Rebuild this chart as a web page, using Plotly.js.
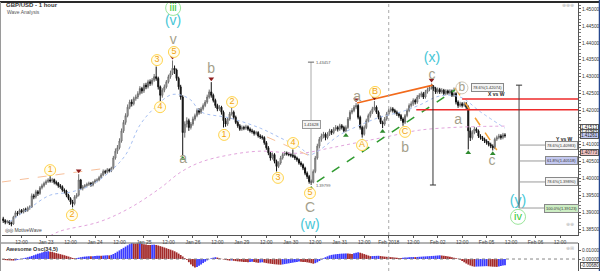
<!DOCTYPE html>
<html><head><meta charset="utf-8">
<script src="https://cdn.plot.ly/plotly-3.0.1.min.js"></script>
<style>html,body{margin:0;padding:0;background:#fff}#c{width:600px;height:271px}</style>
</head><body><div id="c"></div>
<script>
// hourly bars, x = trading hour counted from Jan 23 00:00 (weekends removed)
const START_HOUR = -21;
const open = [
1.3880,1.3875,1.3870,1.3872,1.3868,1.3865,1.3885,1.3898,1.3895,1.3905,
1.3900,1.3908,1.3905,1.3912,1.3915,1.3948,1.3945,1.3960,1.3955,1.3972,
1.3978,1.3985,1.3990,1.3995,1.3992,1.3996,1.3988,1.3985,1.3978,1.3975,
1.3965,1.3962,1.3950,1.3940,1.3930,1.3925,1.3945,1.3950,1.3995,1.3970,
1.3975,1.3978,1.3982,1.3985,1.3980,1.3988,1.3993,1.3995,1.4002,1.4010,
1.4020,1.4018,1.4025,1.4022,1.4030,1.4060,1.4080,1.4090,1.4110,1.4140,
1.4165,1.4185,1.4210,1.4225,1.4220,1.4235,1.4240,1.4250,1.4265,1.4258,
1.4275,1.4270,1.4285,1.4280,1.4290,1.4300,1.4295,1.4270,1.4245,1.4260,
1.4270,1.4285,1.4300,1.4310,1.4325,1.4320,1.4295,1.4270,1.4240,1.4135,
1.4160,1.4170,1.4150,1.4160,1.4175,1.4185,1.4200,1.4195,1.4205,1.4215,
1.4225,1.4240,1.4255,1.4245,1.4230,1.4215,1.4205,1.4210,1.4195,1.4170,
1.4160,1.4175,1.4190,1.4195,1.4180,1.4165,1.4155,1.4145,1.4150,1.4148,
1.4152,1.4145,1.4140,1.4138,1.4132,1.4135,1.4125,1.4122,1.4120,1.4105,
1.4090,1.4075,1.4060,1.4070,1.4050,1.4035,1.4045,1.4060,1.4070,1.4075,
1.4072,1.4070,1.4068,1.4065,1.4060,1.4055,1.4045,1.4040,1.4030,1.4015,
1.4005,1.3990,1.3988,1.4020,1.4060,1.4095,1.4115,1.4125,1.4130,1.4120,
1.4130,1.4140,1.4135,1.4145,1.4150,1.4145,1.4155,1.4150,1.4140,1.4150,
1.4175,1.4195,1.4200,1.4210,1.4215,1.4180,1.4150,1.4130,1.4150,1.4170,
1.4185,1.4195,1.4205,1.4210,1.4195,1.4180,1.4165,1.4160,1.4175,1.4190,
1.4200,1.4205,1.4200,1.4195,1.4190,1.4185,1.4175,1.4165,1.4185,1.4200,
1.4215,1.4220,1.4230,1.4225,1.4240,1.4245,1.4250,1.4240,1.4255,1.4262,
1.4268,1.4270,1.4265,1.4255,1.4262,1.4255,1.4260,1.4250,1.4258,1.4252,
1.4258,1.4245,1.4250,1.4225,1.4215,1.4220,1.4215,1.4220,1.4210,1.4140,
1.4120,1.4135,1.4145,1.4140,1.4125,1.4120,1.4115,1.4110,1.4105,1.4100,
1.4095,1.4090,1.4115,1.4120,1.4125,1.4120,1.4128];
const high = [
1.3886,1.3879,1.3877,1.3876,1.3872,1.3889,1.3904,1.3903,1.3910,1.3909,
1.3912,1.3913,1.3917,1.3920,1.3955,1.3954,1.3966,1.3965,1.3977,1.3984,
1.3990,1.3996,1.4000,1.4006,1.4001,1.3999,1.3993,1.3989,1.3983,1.3979,
1.3970,1.3966,1.3954,1.3944,1.3936,1.3950,1.3956,1.4012,1.3998,1.3980,
1.3983,1.3987,1.3990,1.3989,1.3992,1.3998,1.4000,1.4007,1.4015,1.4026,
1.4025,1.4030,1.4029,1.4034,1.4066,1.4088,1.4098,1.4118,1.4147,1.4172,
1.4192,1.4218,1.4232,1.4233,1.4241,1.4247,1.4257,1.4272,1.4270,1.4281,
1.4282,1.4291,1.4292,1.4296,1.4308,1.4330,1.4300,1.4274,1.4266,1.4277,
1.4290,1.4306,1.4318,1.4348,1.4333,1.4324,1.4300,1.4276,1.4245,1.4168,
1.4180,1.4176,1.4166,1.4182,1.4191,1.4206,1.4207,1.4211,1.4221,1.4231,
1.4247,1.4262,1.4284,1.4250,1.4235,1.4220,1.4216,1.4214,1.4200,1.4178,
1.4181,1.4196,1.4210,1.4200,1.4185,1.4170,1.4160,1.4156,1.4155,1.4158,
1.4156,1.4150,1.4146,1.4142,1.4140,1.4139,1.4130,1.4127,1.4124,1.4110,
1.4095,1.4080,1.4076,1.4074,1.4055,1.4050,1.4066,1.4076,1.4080,1.4079,
1.4077,1.4074,1.4085,1.4070,1.4064,1.4059,1.4050,1.4044,1.4034,1.4020,
1.4010,1.3996,1.4026,1.4066,1.4102,1.4122,1.4132,1.4137,1.4135,1.4136,
1.4146,1.4145,1.4151,1.4157,1.4155,1.4161,1.4160,1.4155,1.4156,1.4181,
1.4201,1.4207,1.4216,1.4222,1.4219,1.4185,1.4155,1.4156,1.4176,1.4191,
1.4200,1.4211,1.4228,1.4215,1.4200,1.4185,1.4170,1.4181,1.4196,1.4206,
1.4211,1.4210,1.4205,1.4200,1.4195,1.4190,1.4180,1.4190,1.4206,1.4221,
1.4227,1.4236,1.4235,1.4246,1.4251,1.4256,1.4255,1.4261,1.4268,1.4274,
1.4280,1.4275,1.4270,1.4268,1.4267,1.4266,1.4264,1.4263,1.4262,1.4263,
1.4262,1.4268,1.4254,1.4230,1.4226,1.4225,1.4226,1.4225,1.4215,1.4150,
1.4142,1.4152,1.4150,1.4144,1.4130,1.4125,1.4120,1.4115,1.4110,1.4105,
1.4100,1.4120,1.4126,1.4131,1.4130,1.4134,1.4133];
const low = [
1.3868,1.3864,1.3866,1.3862,1.3858,1.3862,1.3882,1.3889,1.3891,1.3895,
1.3896,1.3900,1.3901,1.3907,1.3912,1.3938,1.3940,1.3948,1.3951,1.3967,
1.3973,1.3980,1.3986,1.3987,1.3986,1.3982,1.3979,1.3972,1.3969,1.3960,
1.3955,1.3944,1.3935,1.3922,1.3914,1.3920,1.3940,1.3946,1.3965,1.3964,
1.3970,1.3973,1.3977,1.3975,1.3976,1.3984,1.3988,1.3991,1.3998,1.4006,
1.4012,1.4014,1.4017,1.4018,1.4026,1.4055,1.4072,1.4085,1.4105,1.4134,
1.4158,1.4180,1.4204,1.4212,1.4215,1.4229,1.4234,1.4245,1.4250,1.4252,
1.4263,1.4265,1.4273,1.4274,1.4285,1.4288,1.4262,1.4228,1.4238,1.4254,
1.4265,1.4280,1.4294,1.4305,1.4308,1.4288,1.4262,1.4232,1.4068,1.4120,
1.4150,1.4140,1.4144,1.4155,1.4170,1.4180,1.4188,1.4190,1.4200,1.4210,
1.4220,1.4235,1.4238,1.4224,1.4208,1.4198,1.4199,1.4188,1.4150,1.4152,
1.4155,1.4170,1.4185,1.4174,1.4160,1.4149,1.4140,1.4140,1.4142,1.4143,
1.4140,1.4135,1.4132,1.4126,1.4127,1.4120,1.4116,1.4114,1.4099,1.4084,
1.4068,1.4052,1.4055,1.4044,1.4020,1.4030,1.4040,1.4055,1.4066,1.4067,
1.4065,1.4062,1.4060,1.4054,1.4049,1.4040,1.4034,1.4024,1.4009,1.3998,
1.3984,1.3980,1.3985,1.4015,1.4055,1.4088,1.4108,1.4118,1.4112,1.4115,
1.4125,1.4128,1.4130,1.4140,1.4138,1.4140,1.4144,1.4135,1.4136,1.4146,
1.4170,1.4189,1.4195,1.4204,1.4174,1.4144,1.4120,1.4126,1.4145,1.4165,
1.4179,1.4190,1.4200,1.4190,1.4174,1.4160,1.4148,1.4155,1.4170,1.4185,
1.4195,1.4194,1.4189,1.4184,1.4179,1.4169,1.4155,1.4160,1.4180,1.4195,
1.4209,1.4214,1.4218,1.4220,1.4234,1.4239,1.4234,1.4235,1.4250,1.4257,
1.4262,1.4258,1.4249,1.4250,1.4249,1.4250,1.4244,1.4245,1.4247,1.4247,
1.4240,1.4240,1.4218,1.4208,1.4210,1.4209,1.4211,1.4204,1.4085,1.4110,
1.4114,1.4130,1.4134,1.4119,1.4114,1.4110,1.4104,1.4099,1.4094,1.4089,
1.4082,1.4086,1.4110,1.4115,1.4114,1.4115,1.4120];
const close = [
1.3875,1.3870,1.3872,1.3868,1.3865,1.3885,1.3898,1.3895,1.3905,1.3900,
1.3908,1.3905,1.3912,1.3915,1.3948,1.3945,1.3960,1.3955,1.3972,1.3978,
1.3985,1.3990,1.3995,1.3992,1.3996,1.3988,1.3985,1.3978,1.3975,1.3965,
1.3962,1.3950,1.3940,1.3930,1.3925,1.3945,1.3950,1.3995,1.3970,1.3975,
1.3978,1.3982,1.3985,1.3980,1.3988,1.3993,1.3995,1.4002,1.4010,1.4020,
1.4018,1.4025,1.4022,1.4030,1.4060,1.4080,1.4090,1.4110,1.4140,1.4165,
1.4185,1.4210,1.4225,1.4220,1.4235,1.4240,1.4250,1.4265,1.4258,1.4275,
1.4270,1.4285,1.4280,1.4290,1.4300,1.4295,1.4270,1.4245,1.4260,1.4270,
1.4285,1.4300,1.4310,1.4325,1.4320,1.4295,1.4270,1.4240,1.4135,1.4160,
1.4170,1.4150,1.4160,1.4175,1.4185,1.4200,1.4195,1.4205,1.4215,1.4225,
1.4240,1.4255,1.4245,1.4230,1.4215,1.4205,1.4210,1.4195,1.4170,1.4160,
1.4175,1.4190,1.4195,1.4180,1.4165,1.4155,1.4145,1.4150,1.4148,1.4152,
1.4145,1.4140,1.4138,1.4132,1.4135,1.4125,1.4122,1.4120,1.4105,1.4090,
1.4075,1.4060,1.4070,1.4050,1.4035,1.4045,1.4060,1.4070,1.4075,1.4072,
1.4070,1.4068,1.4065,1.4060,1.4055,1.4045,1.4040,1.4030,1.4015,1.4005,
1.3990,1.3988,1.4020,1.4060,1.4095,1.4115,1.4125,1.4130,1.4120,1.4130,
1.4140,1.4135,1.4145,1.4150,1.4145,1.4155,1.4150,1.4140,1.4150,1.4175,
1.4195,1.4200,1.4210,1.4215,1.4180,1.4150,1.4130,1.4150,1.4170,1.4185,
1.4195,1.4205,1.4210,1.4195,1.4180,1.4165,1.4160,1.4175,1.4190,1.4200,
1.4205,1.4200,1.4195,1.4190,1.4185,1.4175,1.4165,1.4185,1.4200,1.4215,
1.4220,1.4230,1.4225,1.4240,1.4245,1.4250,1.4240,1.4255,1.4262,1.4268,
1.4270,1.4265,1.4255,1.4262,1.4255,1.4260,1.4250,1.4258,1.4252,1.4258,
1.4245,1.4250,1.4225,1.4215,1.4220,1.4215,1.4220,1.4210,1.4140,1.4120,
1.4135,1.4145,1.4140,1.4125,1.4120,1.4115,1.4110,1.4105,1.4100,1.4095,
1.4090,1.4115,1.4120,1.4125,1.4120,1.4128,1.4126];
// Awesome Oscillator (34,5), one value per bar
const ao = [
-0.0010,-0.0012,-0.0014,-0.0015,-0.0016,-0.0017,-0.0015,
-0.0010,-0.0004,0.0002,0.0008,0.0014,0.0020,0.0026,
0.0034,0.0042,0.0050,0.0058,0.0065,0.0072,0.0078,0.0083,
0.0086,0.0082,0.0078,0.0072,0.0066,0.0060,0.0054,0.0048,0.0042,
0.0035,0.0028,0.0020,0.0012,0.0008,
0.0011,0.0015,0.0020,0.0024,
0.0027,0.0029,0.0031,0.0030,0.0032,0.0034,0.0035,0.0037,0.0036,0.0038,0.0040,0.0042,0.0040,
0.0046,0.0056,0.0068,0.0082,0.0096,0.0110,0.0124,0.0138,0.0152,0.0165,
0.0175,
0.0173,0.0171,0.0169,0.0172,0.0168,0.0164,
0.0160,0.0157,0.0155,0.0158,0.0160,0.0156,
0.0150,0.0143,0.0136,0.0128,
0.0120,0.0112,0.0104,0.0096,0.0086,0.0074,0.0060,0.0045,0.0028,0.0010,
-0.0010,-0.0035,-0.0060,-0.0080,-0.0095,
-0.0088,-0.0075,-0.0060,-0.0045,-0.0030,
-0.0015,-0.0002,0.0008,0.0015,0.0020,
0.0016,0.0008,0.0002,
-0.0005,-0.0010,-0.0014,-0.0018,-0.0016,-0.0020,-0.0023,-0.0026,-0.0028,-0.0030,-0.0032,-0.0034,
-0.0036,-0.0033,-0.0030,-0.0034,-0.0038,-0.0042,-0.0039,-0.0036,-0.0040,-0.0045,
-0.0049,-0.0052,-0.0055,-0.0058,-0.0060,-0.0062,-0.0063,
-0.0060,-0.0056,-0.0052,-0.0048,-0.0044,-0.0040,-0.0036,-0.0032,-0.0028,
-0.0030,-0.0032,-0.0034,-0.0037,-0.0041,-0.0046,-0.0052,
-0.0046,-0.0036,-0.0022,
-0.0006,0.0008,0.0020,0.0030,0.0040,
0.0046,0.0050,0.0053,0.0056,0.0058,0.0060,0.0061,0.0062,
0.0060,0.0058,0.0057,
0.0064,0.0070,0.0075,
0.0070,0.0063,0.0055,0.0047,0.0039,0.0032,
0.0033,0.0034,0.0035,0.0036,
0.0033,0.0030,0.0027,0.0025,0.0023,0.0021,
0.0019,0.0016,0.0014,0.0012,0.0010,
0.0013,0.0016,0.0018,0.0020,
0.0021,0.0022,0.0021,0.0023,0.0025,0.0026,0.0028,0.0029,0.0031,0.0032,0.0034,0.0035,0.0037,0.0039,0.0041,
0.0039,0.0036,0.0033,0.0029,0.0025,0.0020,0.0015,0.0009,0.0003,
-0.0008,-0.0022,-0.0036,-0.0050,-0.0062,-0.0072,-0.0080,-0.0085,
-0.0084,-0.0083,-0.0082,-0.0081,-0.0080,-0.0079,
-0.0081,-0.0083,-0.0085,-0.0086,-0.0087,
-0.0083,-0.0078,-0.0073,-0.0068];

// moving averages (sampled)
const maFastHours = [-18,-8,2,12,22,31,39,46,53,61,66,71,76,90,105,115,125,129,134,144,154,164,174,183,193,203,213,225];
const maFast = [1.3871,1.3912,1.3950,1.3959,1.3980,1.4018,1.4069,1.4157,1.4207,1.4246,1.4246,1.4231,1.4196,1.4178,1.4148,1.4119,1.4089,1.4069,1.4083,1.4128,1.4157,1.4181,1.4196,1.4216,1.4243,1.4240,1.4196,1.4148];
const maSlowHours = [2,7,26,41,56,66,76,90,105,125,139,154,169,183,203,225];
const maSlow = [1.3830,1.3844,1.3871,1.3912,1.3971,1.4018,1.4048,1.4069,1.4080,1.4074,1.4089,1.4107,1.4125,1.4142,1.4151,1.4154];

// axis ticks
const tickHours = [-12,0,12,24,36,48,60,72,84,96,108,120,132,144,156,168,180,192,204,216,228,240,252];
const tickLabels = ['12:00','Jan 23','12:00','Jan 24','12:00','Jan 25','12:00','Jan 26','12:00','Jan 29','12:00','Jan 30','12:00','Jan 31','12:00','Feb 2018','12:00','Feb 02','12:00','Feb 05','12:00','Feb 06','12:00'];
const priceTicks = [1.385,1.390,1.395,1.400,1.405,1.410,1.415,1.420,1.425,1.430,1.435,1.440,1.445,1.450];

// wave labels
const circText = ['1','2','3','4','5','1','2','3','4','5','A','B','C'];
const circHour = [2,12.7,54.4,55.9,62.7,87.3,91.2,113.7,121.1,129.4,154.9,161.3,176];
const circPrice = [1.4024,1.3891,1.4349,1.4210,1.4373,1.4128,1.4225,1.4001,1.4104,1.3956,1.4098,1.4255,1.4137];
const grayText = ['v','a','b','C','a','b','c','a','c'];
const grayHour = [62.3,67.2,80.9,129.4,152.5,176,189.2,202,218.6];
const grayPrice = [1.4408,1.4054,1.4320,1.3912,1.4240,1.4089,1.4305,1.4172,1.4048];
const cyanText = ['(v)','(w)','(x)','(y)'];
const cyanHour = [62.3,129.4,189.2,231.4];
const cyanPrice = [1.4462,1.3859,1.4355,1.3930];
const greenText = ['iii','iv'];
const greenHour = [62.3,231.4];
const greenPrice = [1.4503,1.3886];
const highMarkHours = [2,16,54,62,81,152,161,189];
const lowMarkHours = [13,67,113,130,147,155,165,175,207,219];

// drawn lines
const peachLeftH = [-21.6,30], peachLeftP = [1.3989,1.4030];
const peachMidH = [108.3,130.4], peachMidP = [1.4122,1.4063];
const orangeH = [152.5,189.7], orangeP = [1.4222,1.4275];
const greenDashH = [132.8,200.5], greenDashP = [1.3989,1.4261];
const orangeDashH = [200.5,221], orangeDashP = [1.4267,1.4083];
const redLineStart = [204,181.5], redLinePrice = [1.4234,1.4202];
const measureHour = [129.9,189.7,231.9], measureTop = [1.4343,1.4275,1.4275], measureBottom = [1.3980,1.3980,1.3912];
const fibPrice = [1.4098,1.4051,1.3989,1.3912];
const fibText = ['78.6%(1.40983)','61.8%(1.40518)','78.6%(1.39890)','100.0%(1.39123)'];
const fibFill = ['#f4f4f4','#c3c8f0','#f4f4f4','#cdeec4'];
const sideLabelText = ['1.41513','1.41362','1.41261','1.40773'];
const sideLabelPrice = [1.4151,1.4136,1.4126,1.4077];
const sideLabelFill = ['#ffffff','#eeeeee','#c3c9f2','#f2c4c4'];

const XR = [-21.6,260.8];
const PX = v => (v - 2) / 576;
const PY = v => (271 - v) / 268;
const FONT = 'Liberation Sans, Arial, sans-serif';
const hours = open.map((_, i) => START_HOUR + i);
const aoColors = ao.map((v, i) => (i > 0 && v > ao[i-1]) ? '#3b3bff' : '#a32b2b');

const traces = [];
traces.push({type:'scatter',mode:'lines',x:maSlowHours,y:maSlow,line:{color:'#e2a4dc',width:1,dash:'dot',shape:'spline'},hoverinfo:'skip'});
traces.push({type:'scatter',mode:'lines',x:maFastHours,y:maFast,line:{color:'#a6bff2',width:1,dash:'dot',shape:'spline'},hoverinfo:'skip'});
traces.push({type:'candlestick',x:hours,open:open,high:high,low:low,close:close,
  increasing:{line:{color:'#6e6e6e',width:1},fillcolor:'#d2d2d2'},
  decreasing:{line:{color:'#111111',width:1},fillcolor:'#111111'},
  whiskerwidth:0,hoverinfo:'skip'});
function seg(h,p,color,dash,width){traces.push({type:'scatter',mode:'lines',x:h,y:p,line:{color:color,dash:dash,width:width},hoverinfo:'skip'});}
seg(peachLeftH,peachLeftP,'#f7bf9a','dash',1);
seg(peachMidH,peachMidP,'#f7bf9a','dash',1);
seg(orangeH,orangeP,'#f26a1b','solid',1.6);
seg(greenDashH,greenDashP,'#2f9a2f','dash',1.5);
seg(orangeDashH,orangeDashP,'#f5a032','dash',1.5);

traces.push({type:'scatter',mode:'markers',x:highMarkHours,y:highMarkHours.map(h=>high[h-START_HOUR]+0.0010),
  marker:{symbol:'triangle-down',size:5,color:'#8e1d1d'},hoverinfo:'skip'});
traces.push({type:'scatter',mode:'markers',x:lowMarkHours,y:lowMarkHours.map(h=>low[h-START_HOUR]-0.0010),
  marker:{symbol:'triangle-up',size:5,color:'#2f8a2f'},hoverinfo:'skip'});

traces.push({type:'scatter',mode:'markers+text',x:circHour,y:circPrice,text:circText,textposition:'middle center',
  marker:{size:11,color:'#fffdf0',line:{color:'#ffd34d',width:1}},
  textfont:{family:FONT,size:9,color:'#f2a30f'},hoverinfo:'skip'});
traces.push({type:'scatter',mode:'markers',x:[203.9],y:[1.4267],marker:{size:12,color:'rgba(255,255,255,0.6)',line:{color:'#cfc8b8',width:1}},hoverinfo:'skip'});
traces.push({type:'scatter',mode:'text',x:grayHour,y:grayPrice,text:grayText,textposition:'middle center',
  textfont:{family:FONT,size:14,color:'#a59f8b'},hoverinfo:'skip'});
traces.push({type:'scatter',mode:'text',x:[203.9],y:[1.4267],text:['b'],textposition:'middle center',
  textfont:{family:FONT,size:12,color:'#a59f8b'},hoverinfo:'skip'});
traces.push({type:'scatter',mode:'text',x:cyanHour,y:cyanPrice,text:cyanText,textposition:'middle center',
  textfont:{family:FONT,size:14,color:'#45c6d6'},hoverinfo:'skip'});
traces.push({type:'scatter',mode:'markers+text',x:greenHour,y:greenPrice,text:greenText,textposition:'middle center',
  marker:{size:15,color:'#ffffff',line:{color:'#9be69b',width:1}},
  textfont:{family:FONT,size:11,color:'#35c935'},hoverinfo:'skip'});

traces.push({type:'bar',x:hours,y:ao,xaxis:'x2',yaxis:'y2',marker:{color:aoColors,line:{width:0}},hoverinfo:'skip'});

const shapes = [];
shapes.push({type:'line',xref:'x',yref:'paper',x0:168,x1:168,y0:0,y1:1,line:{color:'#aaaaaa',width:1,dash:'dot'}});
shapes.push({type:'line',xref:'x2',yref:'y2',x0:XR[0],x1:XR[1],y0:0,y1:0,line:{color:'#888888',width:1,dash:'dot'}});
shapes.push({type:'line',xref:'paper',yref:'paper',x0:PX(0),x1:PX(600),y0:PY(2),y1:PY(2),line:{color:'#2a2a2a',width:2}});
shapes.push({type:'line',xref:'paper',yref:'paper',x0:PX(0),x1:PX(578),y0:PY(243),y1:PY(243),line:{color:'#666666',width:1}});
shapes.push({type:'line',xref:'paper',yref:'paper',x0:PX(599.5),x1:PX(599.5),y0:PY(0),y1:PY(271),line:{color:'#27488e',width:1.5}});
shapes.push({type:'line',xref:'paper',yref:'paper',x0:PX(0.5),x1:PX(0.5),y0:PY(2),y1:PY(271),line:{color:'#9a9a9a',width:1}});
redLineStart.forEach((h,i)=>shapes.push({type:'line',xref:'x',yref:'y',x0:h,x1:XR[1],y0:redLinePrice[i],y1:redLinePrice[i],line:{color:'#ee2a2a',width:1.5}}));
const measureColor = ['#aaaaaa','#333333','#444444'];
measureHour.forEach((h,i)=>{
  shapes.push({type:'line',xref:'x',yref:'y',x0:h,x1:h,y0:measureBottom[i],y1:measureTop[i],line:{color:measureColor[i],width:1}});
});
shapes.push({type:'line',xref:'x',yref:'y',x0:measureHour[0]-1.5,x1:measureHour[0]+1.5,y0:measureTop[0],y1:measureTop[0],line:{color:'#666',width:1}});
shapes.push({type:'line',xref:'x',yref:'y',x0:measureHour[1]-1.5,x1:measureHour[1]+1.5,y0:measureBottom[1],y1:measureBottom[1],line:{color:'#333',width:1}});
shapes.push({type:'line',xref:'x',yref:'y',x0:measureHour[2]-1.5,x1:measureHour[2]+1.5,y0:measureTop[2],y1:measureTop[2],line:{color:'#333',width:1}});
fibPrice.forEach(p=>shapes.push({type:'line',xref:'x',yref:'y',x0:measureHour[2],x1:246,y0:p,y1:p,line:{color:'#9a9a9a',width:1}}));

const ann = [];
function txt(x,y,t,size,color,xanchor){ann.push({xref:'paper',yref:'paper',x:x,y:y,text:t,showarrow:false,xanchor:xanchor||'left',yanchor:'middle',font:{family:FONT,size:size,color:color}});}
txt(PX(4),PY(5),'<b>GBP/USD - 1 hour</b>',6,'#333');
txt(PX(5),PY(12),'Wave Analysis',5,'#555');
txt(PX(3),PY(230),'◎◎ MotiveWave',5,'#444');
txt(PX(4),PY(249),'<b>Awesome Osc(34,5)</b>',5.5,'#333');
txt(PX(576),PY(5),'⊕⊕⊕',5,'#bbbbbb','right');
txt(PX(576),PY(224),'⊕⊕',5,'#bbbbbb','right');
txt(PX(576),PY(248),'⊕⊞',5,'#bbbbbb','right');
fibPrice.forEach((p,i)=>ann.push({xref:'x',yref:'y',x:252.7,y:p,text:fibText[i],showarrow:false,xanchor:'center',yanchor:'middle',
  font:{family:FONT,size:4,color:'#333'},bgcolor:fibFill[i],bordercolor:'#888',borderwidth:1,borderpad:1}));
ann.push({xref:'x',yref:'y',x:254,y:1.4116,text:'<b>Y vs W</b>',showarrow:false,font:{family:FONT,size:5,color:'#222'}});
ann.push({xref:'x',yref:'y',x:216.2,y:1.4267,text:'78.6%(1.42074)',showarrow:false,font:{family:FONT,size:4,color:'#333'},bgcolor:'#f4f4f4',bordercolor:'#888',borderwidth:1,borderpad:1});
ann.push({xref:'x',yref:'y',x:221,y:1.4249,text:'<b>X vs W</b>',showarrow:false,font:{family:FONT,size:5,color:'#222'}});
ann.push({xref:'x',yref:'y',x:measureHour[0]+1.5,y:measureTop[0],text:'1.43457',showarrow:false,xanchor:'left',font:{family:FONT,size:4,color:'#555'}});
ann.push({xref:'x',yref:'y',x:measureHour[0]+1.5,y:measureBottom[0]-0.0002,text:'1.39799',showarrow:false,xanchor:'left',font:{family:FONT,size:4,color:'#555'}});
ann.push({xref:'x',yref:'y',x:measureHour[0],y:1.4160,text:'1.41628',showarrow:false,font:{family:FONT,size:4,color:'#333'},bgcolor:'#f4f4f4',bordercolor:'#999',borderwidth:1,borderpad:1});
sideLabelPrice.forEach((p,i)=>ann.push({xref:'paper',yref:'y',x:PX(580),y:p,text:sideLabelText[i],showarrow:false,xanchor:'left',yanchor:'middle',
  font:{family:FONT,size:4.5,color:'#222'},bgcolor:sideLabelFill[i],bordercolor:'#555',borderwidth:1,borderpad:0}));
ann.push({xref:'paper',yref:'y2',x:PX(580),y:ao[ao.length-1],text:ao[ao.length-1].toFixed(5),showarrow:false,xanchor:'left',yanchor:'middle',
  font:{family:FONT,size:4.5,color:'#222'},bgcolor:'#ffffff',bordercolor:'#555',borderwidth:1,borderpad:0});

const layout = {
  width:600,height:271,margin:{l:2,r:22,t:3,b:0},paper_bgcolor:'#ffffff',plot_bgcolor:'#ffffff',
  showlegend:false,bargap:0.12,hovermode:false,
  font:{family:FONT,size:6,color:'#333'},
  xaxis:{domain:[0,1],range:XR,anchor:'y',tickmode:'array',tickvals:tickHours,ticktext:tickLabels,
    ticks:'outside',ticklen:2,tickcolor:'#555',tickfont:{family:FONT,size:5,color:'#333'},
    showline:true,linecolor:'#555',linewidth:1,showgrid:false,zeroline:false,rangeslider:{visible:false}},
  yaxis:{domain:[0.1343,1],range:[1.38323,1.45177],side:'right',anchor:'x',tickmode:'array',tickvals:priceTicks,
    tickformat:'.5f',ticks:'outside',ticklen:2,tickcolor:'#555',tickfont:{family:FONT,size:4.8,color:'#333'},
    showline:true,linecolor:'#555',showgrid:false,zeroline:false,
    minor:{tickmode:'linear',tick0:1.385,dtick:0.001,ticks:'outside',ticklen:1.5,tickcolor:'#777'}},
  xaxis2:{domain:[0,1],anchor:'y2',matches:'x',range:XR,showticklabels:false,ticks:'',showgrid:false,zeroline:false,showline:false},
  yaxis2:{domain:[0,0.1045],range:[-0.0133,0.0178],side:'right',anchor:'x2',tickmode:'array',tickvals:[0,0.01],
    tickformat:'.5f',ticks:'outside',ticklen:2,tickcolor:'#555',tickfont:{family:FONT,size:4.8,color:'#333'},
    showline:true,linecolor:'#555',showgrid:false,zeroline:false},
  shapes:shapes,annotations:ann
};
Plotly.newPlot('c',traces,layout,{staticPlot:true,displayModeBar:false});
</script></body></html>
